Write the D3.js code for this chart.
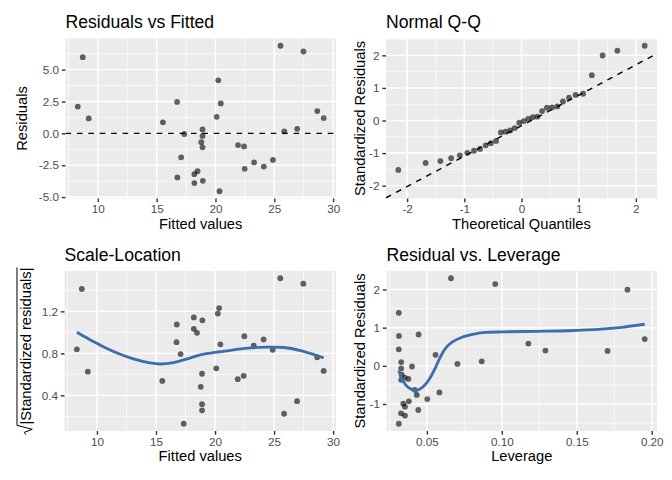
<!DOCTYPE html>
<html><head><meta charset="utf-8">
<script src="https://cdn.jsdelivr.net/npm/d3@7"></script>
<style>
body{margin:0;background:#fff}
text{font-family:"Liberation Sans",Arial,Helvetica,sans-serif}
</style>
</head><body>
<svg id="c" width="672" height="480" xmlns="http://www.w3.org/2000/svg"></svg>
<script>
// lm(mpg ~ wt) diagnostics
const fitted = [23.283, 21.920, 24.886, 20.103, 18.900, 18.793, 18.205, 20.236, 20.450, 18.900, 18.900, 15.533, 17.350, 17.083, 9.227, 8.297, 8.719, 25.527, 28.654, 27.478, 24.111, 18.473, 18.927, 16.762, 16.736, 26.944, 25.848, 29.199, 20.343, 22.481, 18.205, 22.427];
const residuals = [-2.283, -0.920, -2.086, 1.297, -0.200, -0.693, -3.905, 4.164, 2.350, 0.300, -1.100, 0.867, -0.050, -1.883, 1.173, 2.103, 5.981, 6.873, 1.746, 6.422, -2.611, -2.973, -3.727, -3.462, 2.464, 0.356, 0.152, 1.201, -4.543, -2.781, -3.205, -1.027];
const leverage = [0.0433, 0.0352, 0.0584, 0.0313, 0.0329, 0.0332, 0.0354, 0.0313, 0.0314, 0.0329, 0.0329, 0.0558, 0.0401, 0.0419, 0.1705, 0.1953, 0.1838, 0.0661, 0.1177, 0.0956, 0.0503, 0.0343, 0.0328, 0.0443, 0.0445, 0.0866, 0.0704, 0.1291, 0.0313, 0.0380, 0.0354, 0.0377];
const stdResid = [-0.762, -0.307, -0.696, 0.433, -0.067, -0.231, -1.303, 1.390, 0.784, 0.100, -0.367, 0.289, -0.017, -0.628, 0.392, 0.702, 1.996, 2.294, 0.583, 2.143, -0.871, -0.992, -1.244, -1.156, 0.822, 0.119, 0.051, 0.401, -1.516, -0.928, -1.070, -0.343];
const sqrtStdResid = [0.873, 0.554, 0.834, 0.658, 0.258, 0.481, 1.142, 1.179, 0.886, 0.316, 0.606, 0.538, 0.130, 0.793, 0.626, 0.838, 1.413, 1.515, 0.763, 1.464, 0.933, 0.996, 1.115, 1.075, 0.907, 0.345, 0.225, 0.633, 1.231, 0.963, 1.034, 0.586];
const qqTheoretical = [-2.154, -1.676, -1.418, -1.230, -1.078, -0.947, -0.831, -0.725, -0.626, -0.534, -0.445, -0.360, -0.278, -0.197, -0.118, -0.039, 0.039, 0.118, 0.197, 0.278, 0.360, 0.445, 0.534, 0.626, 0.725, 0.831, 0.947, 1.078, 1.230, 1.418, 1.676, 2.154];
const qqSample = [-1.516, -1.303, -1.244, -1.156, -1.070, -0.992, -0.928, -0.871, -0.762, -0.696, -0.628, -0.367, -0.343, -0.307, -0.231, -0.067, -0.017, 0.051, 0.100, 0.119, 0.289, 0.392, 0.401, 0.433, 0.583, 0.702, 0.784, 0.822, 1.390, 1.996, 2.143, 2.294];
const qqLineSlope = 0.934;
const qqLineIntercept = -0.159;
const slSmoothX = [8.30, 9.13, 10.07, 11.40, 13.09, 14.51, 15.36, 16.49, 17.62, 18.75, 20.17, 21.58, 23.00, 24.41, 25.83, 27.24, 28.38, 29.20];
const slSmoothY = [1.000, 0.948, 0.891, 0.818, 0.747, 0.709, 0.699, 0.712, 0.747, 0.786, 0.811, 0.834, 0.853, 0.859, 0.856, 0.827, 0.789, 0.757];
const rlSmoothX = [0.0313, 0.0335, 0.0357, 0.0390, 0.0424, 0.0457, 0.0490, 0.0524, 0.0557, 0.0590, 0.0623, 0.0668, 0.0734, 0.0823, 0.0890, 0.1008, 0.1218, 0.1440, 0.1662, 0.1800, 0.1953];
const rlSmoothY = [-0.12, -0.34, -0.49, -0.60, -0.645, -0.60, -0.49, -0.30, -0.05, 0.23, 0.45, 0.62, 0.75, 0.84, 0.876, 0.89, 0.905, 0.92, 0.96, 1.01, 1.09];

const fittedTicks = [10, 15, 20, 25, 30];
const residTicks = [-5, -2.5, 0, 2.5, 5];
const qqXTicks = [-2, -1, 0, 1, 2];
const qqYTicks = [-2, -1, 0, 1, 2];
const slYTicks = [0.4, 0.8, 1.2];
const levTicks = [0.05, 0.10, 0.15, 0.20];
const levYTicks = [-1, 0, 1, 2];

const svg = d3.select("#c");
const FS_TICK = 11.7, FS_AXIS = 14.7, FS_TITLE = 17.6;
const SMOOTH = "#3C6EAD";

function expand(ext) { const d = (ext[1] - ext[0]) * 0.05; return [ext[0] - d, ext[1] + d]; }
function minorsOf(ticks, dom) {
  const step = ticks[1] - ticks[0];
  const out = [];
  for (let v = ticks[0] - step / 2; v <= dom[1] + 1e-9; v += step) if (v >= dom[0]) out.push(v);
  return out.filter(v => !ticks.some(t => Math.abs(t - v) < 1e-9));
}

let clipId = 0;
function panel(o) {
  const {l, r, t, b} = o.box;
  const x = d3.scaleLinear().domain(o.xDom).range([l, r]);
  const y = d3.scaleLinear().domain(o.yDom).range([b, t]);
  const g = svg.append("g");
  g.append("rect").attr("x", l).attr("y", t).attr("width", r - l).attr("height", b - t).attr("fill", "#EBEBEB");
  // minor grid
  g.selectAll(null).data(minorsOf(o.xTicks, o.xDom)).join("line")
    .attr("x1", d => x(d)).attr("x2", d => x(d)).attr("y1", t).attr("y2", b)
    .attr("stroke", "#fff").attr("stroke-width", 0.71);
  g.selectAll(null).data(minorsOf(o.yTicks, o.yDom)).join("line")
    .attr("y1", d => y(d)).attr("y2", d => y(d)).attr("x1", l).attr("x2", r)
    .attr("stroke", "#fff").attr("stroke-width", 0.71);
  // major grid
  g.selectAll(null).data(o.xTicks).join("line")
    .attr("x1", d => x(d)).attr("x2", d => x(d)).attr("y1", t).attr("y2", b)
    .attr("stroke", "#fff").attr("stroke-width", 1.42);
  g.selectAll(null).data(o.yTicks).join("line")
    .attr("y1", d => y(d)).attr("y2", d => y(d)).attr("x1", l).attr("x2", r)
    .attr("stroke", "#fff").attr("stroke-width", 1.42);
  // axes
  const ax = g.append("g").attr("transform", `translate(0,${b})`)
    .call(d3.axisBottom(x).tickValues(o.xTicks).tickFormat(o.xFmt).tickSize(3.67).tickSizeOuter(0).tickPadding(2.93));
  const ay = g.append("g").attr("transform", `translate(${l},0)`)
    .call(d3.axisLeft(y).tickValues(o.yTicks).tickFormat(o.yFmt).tickSize(3.67).tickSizeOuter(0).tickPadding(2.93));
  [ax, ay].forEach(a => {
    a.select(".domain").remove();
    a.selectAll("line").attr("stroke", "#333333").attr("stroke-width", 1.42);
    a.selectAll("text").attr("fill", "#4D4D4D").attr("font-size", FS_TICK)
      .attr("font-family", '"Liberation Sans",Arial,Helvetica,sans-serif');
  });
  // title
  svg.append("text").attr("x", l).attr("y", t - 10.3).attr("font-size", FS_TITLE).attr("fill", "#000").text(o.title);
  // x title
  svg.append("text").attr("x", (l + r) / 2).attr("y", b + 30).attr("text-anchor", "middle")
    .attr("font-size", FS_AXIS).attr("fill", "#000").text(o.xTitle);
  // y title
  if (o.yTitle) {
    svg.append("text").attr("transform", `translate(${o.yTitleX},${(t + b) / 2}) rotate(-90)`)
      .attr("text-anchor", "middle").attr("font-size", FS_AXIS).attr("fill", "#000").text(o.yTitle);
  }
  const id = "clip" + (clipId++);
  svg.append("clipPath").attr("id", id).append("rect").attr("x", l).attr("y", t).attr("width", r - l).attr("height", b - t);
  const plot = svg.append("g").attr("clip-path", `url(#${id})`);
  return {x, y, plot};
}

function points(p, xs, ys) {
  p.plot.selectAll(null).data(xs.map((v, i) => [v, ys[i]])).join("circle")
    .attr("cx", d => p.x(d[0])).attr("cy", d => p.y(d[1])).attr("r", 2.9)
    .attr("fill", "#000").attr("fill-opacity", 0.6);
}
function smooth(p, xs, ys) {
  p.plot.append("path").datum(xs.map((v, i) => [v, ys[i]]))
    .attr("d", d3.line().x(d => p.x(d[0])).y(d => p.y(d[1])).curve(d3.curveCatmullRom))
    .attr("fill", "none").attr("stroke", SMOOTH).attr("stroke-width", 2.84).attr("stroke-linecap", "butt");
}
const f1 = d => d.toFixed(1);
const f0 = d => String(d);
const f2 = d => d.toFixed(2);

// Panel 1: Residuals vs Fitted
const fitDom = expand(d3.extent(fitted));
const p1 = panel({box: {l: 65.5, r: 336, t: 38.5, b: 198.5}, xDom: fitDom, yDom: expand(d3.extent(residuals)),
  xTicks: fittedTicks, yTicks: residTicks, xFmt: f0, yFmt: f1,
  title: "Residuals vs Fitted", xTitle: "Fitted values", yTitle: "Residuals", yTitleX: 27});
p1.plot.append("line").attr("x1", p1.x(fitDom[0])).attr("x2", p1.x(fitDom[1])).attr("y1", p1.y(0)).attr("y2", p1.y(0))
  .attr("stroke", "#000").attr("stroke-width", 1.42).attr("stroke-dasharray", "5.7,5.7");
points(p1, fitted, residuals);

// Panel 2: Normal Q-Q
const qqX = d3.extent(qqTheoretical);
const qqLineY = qqX.map(v => qqLineIntercept + qqLineSlope * v);
const qqYDom = expand([Math.min(d3.min(qqSample), qqLineY[0]), Math.max(d3.max(qqSample), qqLineY[1])]);
const qqXDom = expand(qqX);
const p2 = panel({box: {l: 386, r: 657, t: 38.5, b: 198.5}, xDom: qqXDom, yDom: qqYDom,
  xTicks: qqXTicks, yTicks: qqYTicks, xFmt: f0, yFmt: f0,
  title: "Normal Q-Q", xTitle: "Theoretical Quantiles", yTitle: "Standardized Residuals", yTitleX: 364.5});
points(p2, qqTheoretical, qqSample);
p2.plot.append("line")
  .attr("x1", p2.x(qqXDom[0])).attr("y1", p2.y(qqLineIntercept + qqLineSlope * qqXDom[0]))
  .attr("x2", p2.x(qqXDom[1])).attr("y2", p2.y(qqLineIntercept + qqLineSlope * qqXDom[1]))
  .attr("stroke", "#000").attr("stroke-width", 1.42).attr("stroke-dasharray", "5.7,5.7");

// Panel 3: Scale-Location
const p3 = panel({box: {l: 64.5, r: 336, t: 271, b: 431}, xDom: fitDom, yDom: expand(d3.extent(sqrtStdResid)),
  xTicks: fittedTicks, yTicks: slYTicks, xFmt: f0, yFmt: f1,
  title: "Scale-Location", xTitle: "Fitted values", yTitle: null});
points(p3, fitted, sqrtStdResid);
smooth(p3, slSmoothX, slSmoothY);
// y title with radical sign
(function() {
  const g = svg.append("g").attr("transform", `translate(30.5,${(271 + 431) / 2}) rotate(-90)`);
  const txt = g.append("text").attr("font-size", FS_AXIS).attr("fill", "#000").text("|Standardized residuals|");
  const W = txt.node().getComputedTextLength();
  const rad = 10, total = W + rad, x0 = -total / 2, top = -FS_AXIS * 0.92;
  txt.attr("x", x0 + rad);
  g.append("path")
    .attr("d", `M${x0},${-FS_AXIS * 0.32} L${x0 + 2.2},${-FS_AXIS * 0.42} L${x0 + 5.2},${FS_AXIS * 0.12} L${x0 + rad - 0.8},${top} L${x0 + rad + W},${top}`)
    .attr("fill", "none").attr("stroke", "#000").attr("stroke-width", 1).attr("stroke-linejoin", "miter");
})();

// Panel 4: Residual vs. Leverage
const p4 = panel({box: {l: 386.5, r: 657, t: 271, b: 431}, xDom: expand(d3.extent(leverage)), yDom: expand(d3.extent(stdResid)),
  xTicks: levTicks, yTicks: levYTicks, xFmt: f2, yFmt: f0,
  title: "Residual vs. Leverage", xTitle: "Leverage", yTitle: "Standardized Residuals", yTitleX: 364.5});
points(p4, leverage, stdResid);
smooth(p4, rlSmoothX, rlSmoothY);
</script>
</body></html>
